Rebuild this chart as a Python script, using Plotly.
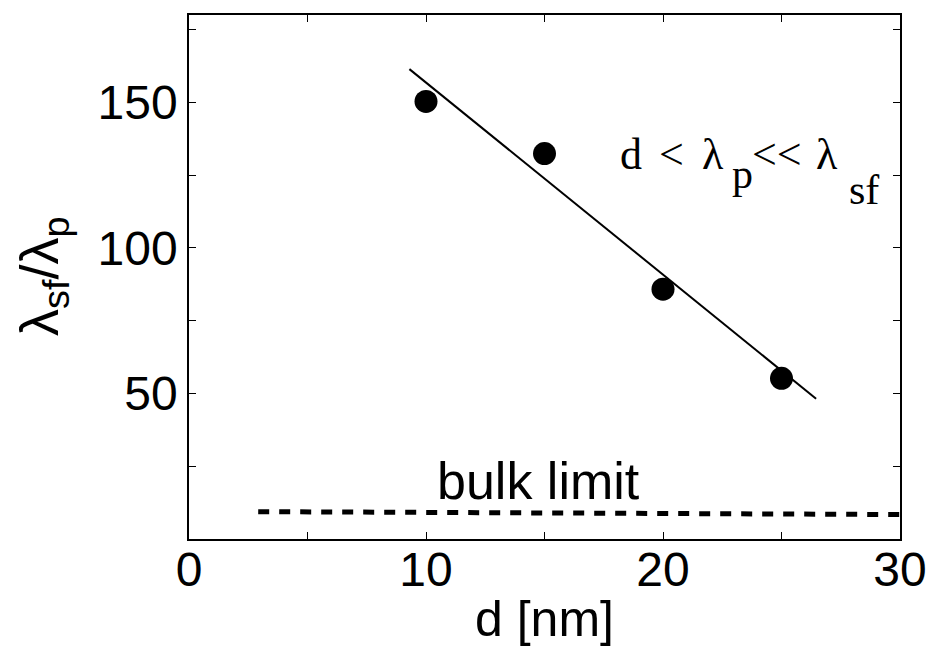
import plotly.graph_objects as go

# data
d_nm = [10, 15, 20, 25]
ratio = [150.3, 132.4, 85.8, 55.2]
fit_x = [9.3, 26.46]
fit_y = [161.4, 48.2]
bulk_x = [2.92, 30]
bulk_y = [9.4, 8.4]

x_tickvals = [0, 5, 10, 15, 20, 25, 30]
x_ticktext = ["0", "", "10", "", "20", "", "30"]
y_tickvals = [25, 50, 75, 100, 125, 150, 175]
y_ticktext = ["", "50", "", "100", "", "150", ""]

fig = go.Figure()
fig.add_trace(go.Scatter(x=fit_x, y=fit_y, mode="lines",
                         line=dict(color="black", width=2), showlegend=False))
fig.add_trace(go.Scatter(x=d_nm, y=ratio, mode="markers",
                         marker=dict(color="black", size=23), showlegend=False))
fig.add_trace(go.Scatter(x=bulk_x, y=bulk_y, mode="lines",
                         line=dict(color="black", width=5, dash="11px,10px"),
                         showlegend=False))

sans = "Liberation Sans, Arial, sans-serif"
serif = "Liberation Serif, Times New Roman, serif"
axis_common = dict(showline=True, linecolor="black", linewidth=1.5, mirror="ticks",
                   ticks="inside", ticklen=7, tickwidth=1, tickcolor="black",
                   showgrid=False, zeroline=False, automargin=False,
                   tickfont=dict(family=sans, size=48, color="black"))

fig.update_xaxes(range=[0, 30], tickmode="array", tickvals=x_tickvals, ticktext=x_ticktext,
                 ticklabelstandoff=-12, **axis_common)
fig.update_yaxes(range=[0, 180], tickmode="array", tickvals=y_tickvals, ticktext=y_ticktext,
                 **axis_common)

# axis titles
fig.add_annotation(xref="paper", yref="paper", x=0.5, y=0, yshift=-80,
                   text="d [nm]", showarrow=False, xanchor="center", yanchor="middle",
                   font=dict(family=sans, size=50, color="black"))
fig.add_annotation(xref="paper", yref="paper", x=0, y=0.5, xshift=-146,
                   text="λ<sub>sf</sub>/λ<sub>p</sub>", textangle=-90, showarrow=False,
                   xanchor="center", yanchor="middle",
                   font=dict(family=sans, size=54, color="black"))

fig.add_annotation(x=14.73, y=19.8, text="bulk limit", showarrow=False,
                   xanchor="center", yanchor="middle",
                   font=dict(family=sans, size=52, color="black"))

# regime label "d < λp << λsf", written glyph group by glyph group so the
# spacing and the low subscripts follow the reference
regime = [("d", 18.67, 132.2, 44),
          ("&lt;", 20.36, 132.2, 44),
          ("λ", 22.09, 132.2, 44),
          ("p", 23.35, 125.3, 42),
          ("&lt;&lt;", 24.83, 132.2, 44),
          ("λ", 26.90, 132.2, 44),
          ("sf", 28.48, 120.0, 42)]
for txt, xv, yv, fs in regime:
    fig.add_annotation(x=xv, y=yv, text=txt, showarrow=False,
                       xanchor="center", yanchor="middle",
                       font=dict(family=serif, size=fs, color="black"))

fig.update_layout(width=920, height=640, margin=dict(l=181, r=28, t=7, b=109),
                  paper_bgcolor="white", plot_bgcolor="white")

fig.write_html("out.html")
